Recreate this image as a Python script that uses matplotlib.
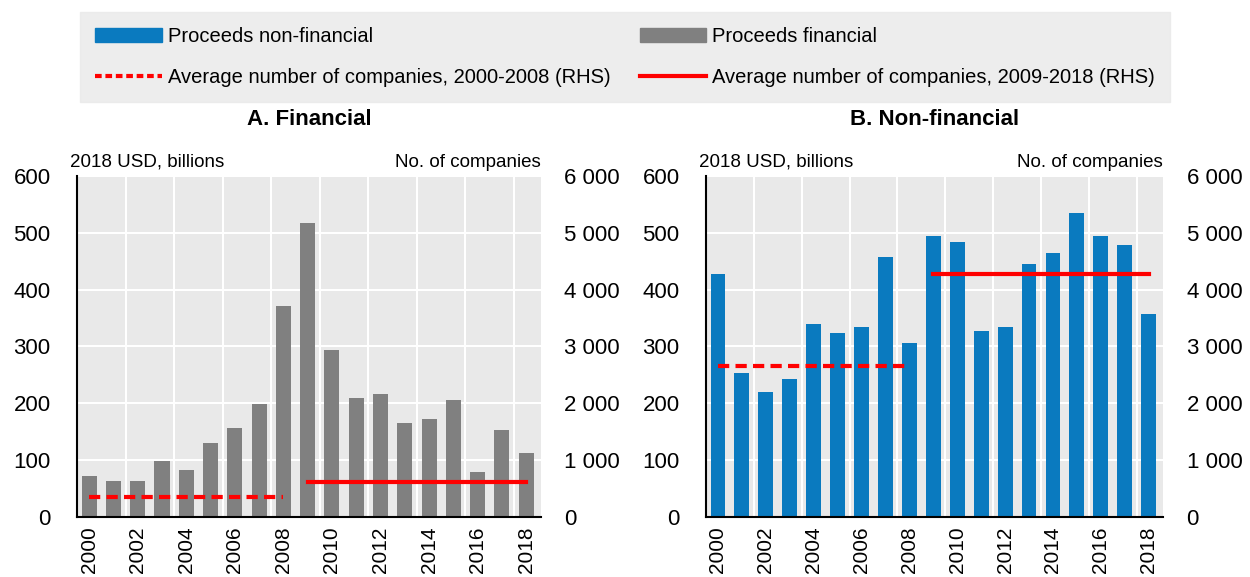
import numpy as np
import matplotlib
matplotlib.use("Agg")
import matplotlib.pyplot as plt
from matplotlib.lines import Line2D
from matplotlib.patches import Patch

plt.rcParams['font.family'] = ['Liberation Sans', 'DejaVu Sans']

years = list(range(2000, 2019))
fin_proceeds = [72, 64, 64, 98, 83, 131, 157, 198, 372, 517, 294, 209, 217, 165, 172, 205, 80, 153, 113]
nonfin_proceeds = [427, 253, 220, 242, 339, 324, 335, 457, 306, 494, 484, 327, 335, 446, 465, 535, 494, 479, 357]
# average number of companies (RHS)
fin_avg = [350, 615]
nonfin_avg = [2650, 4280]
periods = [(2000, 2008), (2009, 2018)]

grey = '#808080'
blue = '#0a7abf'
red = '#ff0000'
bg = '#e9e9e9'

fig = plt.figure(figsize=(12.5, 5.77), dpi=100)

def panel(rect, vals, avgs, color, title):
    ax = fig.add_axes(rect)
    ax.set_facecolor(bg)
    x = np.arange(len(years))
    ax.bar(x, vals, width=0.62, color=color, zorder=2)
    ax.set_ylim(0, 600)
    ax.set_xlim(-0.5, len(years) - 0.4)
    ax.set_yticks(range(0, 601, 100))
    ax.set_xticks(x[::2])
    ax.set_xticklabels([str(y) for y in years[::2]], rotation=90)
    ax.set_xticks(np.arange(1.5, len(years), 2), minor=True)
    ax.grid(axis='y', color='white', lw=1.5, zorder=1)
    ax.grid(axis='x', which='minor', color='white', lw=1.5, zorder=1)
    ax.tick_params(axis='x', which='both', length=0, labelsize=15, pad=7)
    ax.tick_params(axis='y', length=0, labelsize=16, pad=19)
    for s in ['top', 'right']:
        ax.spines[s].set_visible(False)
    for s in ['left', 'bottom']:
        ax.spines[s].set_linewidth(1.5)

    ax2 = ax.twinx()
    ax2.set_ylim(0, 6000)
    ax2.set_yticks(range(0, 6001, 1000))
    ax2.set_yticklabels(['0'] + ['%d 000' % i for i in range(1, 7)])
    ax2.tick_params(axis='y', length=0, labelsize=16, pad=17)
    for s in ['top', 'right', 'left', 'bottom']:
        ax2.spines[s].set_visible(False)
    (a0, a1), (b0, b1) = periods
    ax2.plot([years.index(a0), years.index(a1)], [avgs[0]] * 2, color=red, lw=3,
             dashes=(2.7, 1.5))
    ax2.plot([years.index(b0), years.index(b1)], [avgs[1]] * 2, color=red, lw=3)

    ax.text(-0.015, 1.015, '2018 USD, billions', transform=ax.transAxes,
            ha='left', va='bottom', fontsize=13.5)
    ax.text(1.0, 1.015, 'No. of companies', transform=ax.transAxes,
            ha='right', va='bottom', fontsize=13.5)
    ax.text(0.5, 1.135, title, transform=ax.transAxes, ha='center',
            va='bottom', fontsize=16, fontweight='bold')
    return ax

panel([0.0616, 0.104, 0.371, 0.591], fin_proceeds, fin_avg, grey, 'A. Financial')
panel([0.5648, 0.104, 0.3656, 0.591], nonfin_proceeds, nonfin_avg, blue, 'B. Non-financial')

handles = [Patch(color=blue), Line2D([], [], color=red, lw=3, dashes=(1.6, 0.9)),
           Patch(color=grey), Line2D([], [], color=red, lw=3)]
labels = ['Proceeds non-financial', 'Average number of companies, 2000-2008 (RHS)',
          'Proceeds financial', 'Average number of companies, 2009-2018 (RHS)']
leg = fig.legend(handles, labels, ncol=2, mode='expand',
                 bbox_to_anchor=(0.064, 0.827, 0.872, 0.152), loc='upper left',
                 fontsize=14.5, frameon=True, fancybox=False, handlelength=3.3,
                 handletextpad=0.3, borderaxespad=0, labelspacing=1.1,
                 borderpad=0.75)
leg.get_frame().set_facecolor(bg)
leg.get_frame().set_edgecolor(bg)

fig.savefig('out.png', dpi=100)
